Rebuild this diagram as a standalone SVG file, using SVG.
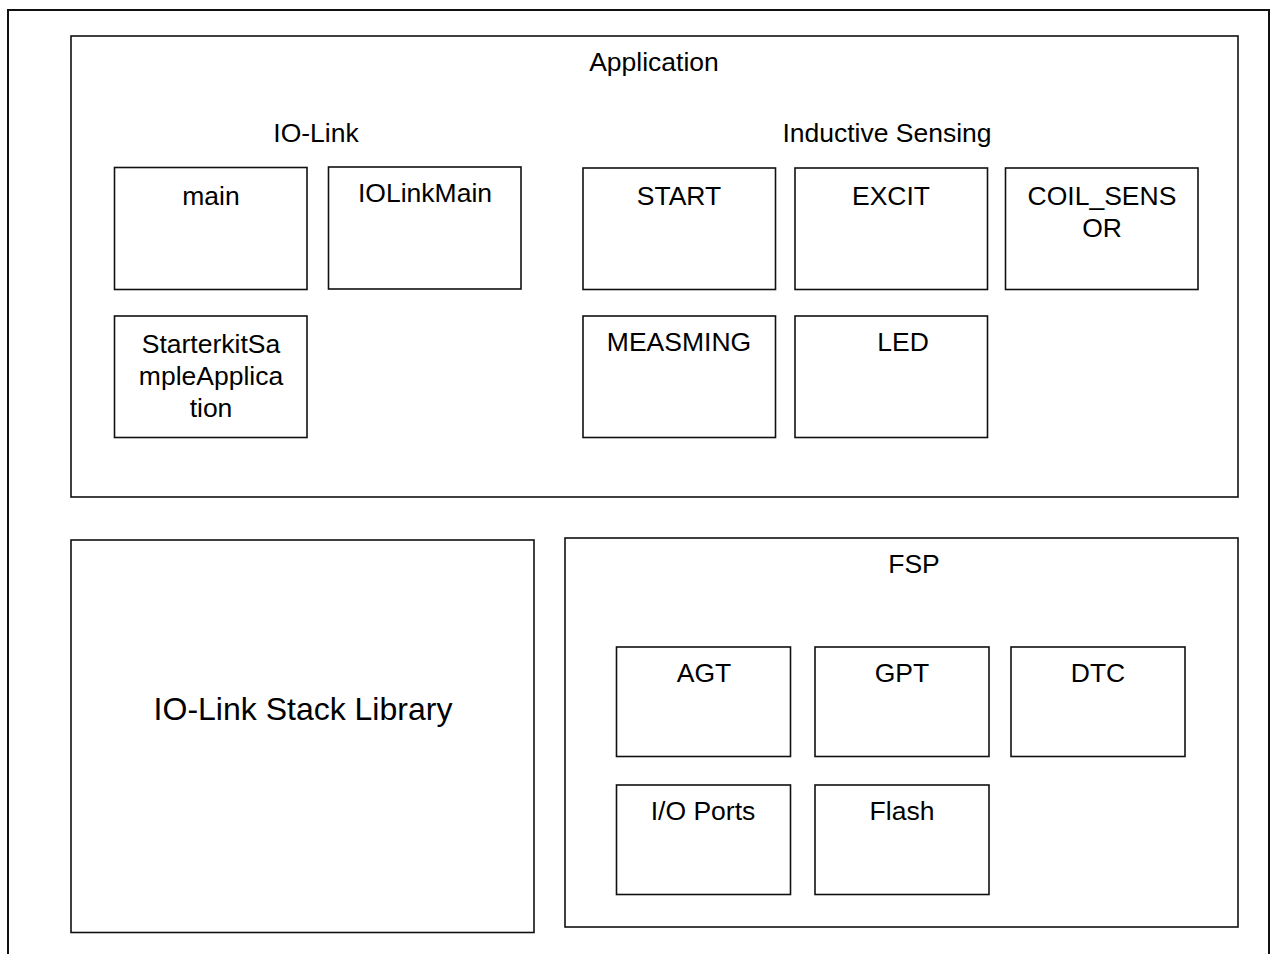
<svg xmlns="http://www.w3.org/2000/svg" width="1271" height="954" viewBox="0 0 1271 954">
<style>
.b{fill:#fff;stroke:#111;stroke-width:1.6}
.t{font-family:"Liberation Sans",Arial,sans-serif;font-size:26.5px;fill:#000;text-anchor:middle}
.big{font-size:32px}
</style>
<rect x="0" y="0" width="1271" height="954" fill="#fff"/>
<g id="frame"><rect x="8" y="10" width="1261" height="970" fill="none" stroke="#111" stroke-width="2"/></g>
<g id="application">
<rect class="b" x="71" y="36" width="1167" height="461"/>
<text class="t" x="654" y="71">Application</text>
<text class="t" x="316" y="142">IO-Link</text>
<text class="t" x="887" y="142">Inductive Sensing</text>
</g>
<g id="main"><rect class="b" x="114.5" y="167.5" width="192.5" height="122"/><text class="t" x="211" y="205">main</text></g>
<g id="iolinkmain"><rect class="b" x="328.5" y="167" width="192.5" height="122"/><text class="t" x="425" y="202">IOLinkMain</text></g>
<g id="starterkit"><rect class="b" x="114.5" y="316" width="192.5" height="121.5"/><text class="t" x="211" y="353">StarterkitSa</text><text class="t" x="211" y="385">mpleApplica</text><text class="t" x="211" y="417">tion</text></g>
<g id="start"><rect class="b" x="583" y="168" width="192.5" height="121.5"/><text class="t" x="679" y="205">START</text></g>
<g id="excit"><rect class="b" x="795" y="168" width="192.5" height="121.5"/><text class="t" x="891" y="205">EXCIT</text></g>
<g id="coil"><rect class="b" x="1005.5" y="168" width="192.5" height="121.5"/><text class="t" x="1102" y="205">COIL_SENS</text><text class="t" x="1102" y="237">OR</text></g>
<g id="measming"><rect class="b" x="583" y="316" width="192.5" height="121.5"/><text class="t" x="679" y="351">MEASMING</text></g>
<g id="led"><rect class="b" x="795" y="316" width="192.5" height="121.5"/><text class="t" x="903" y="351">LED</text></g>
<g id="stack"><rect class="b" x="71" y="540" width="463" height="392.5"/><text class="t big" x="303" y="720">IO-Link Stack Library</text></g>
<g id="fsp">
<rect class="b" x="565" y="538" width="673" height="389"/>
<text class="t" x="914" y="573">FSP</text>
</g>
<g id="agt"><rect class="b" x="616.5" y="647" width="174" height="109.5"/><text class="t" x="704" y="682">AGT</text></g>
<g id="gpt"><rect class="b" x="815" y="647" width="174" height="109.5"/><text class="t" x="902" y="682">GPT</text></g>
<g id="dtc"><rect class="b" x="1011" y="647" width="174" height="109.5"/><text class="t" x="1098" y="682">DTC</text></g>
<g id="ioports"><rect class="b" x="616.5" y="785" width="174" height="109.5"/><text class="t" x="703" y="820">I/O Ports</text></g>
<g id="flash"><rect class="b" x="815" y="785" width="174" height="109.5"/><text class="t" x="902" y="820">Flash</text></g>
<g id="connectors"></g>
</svg>
